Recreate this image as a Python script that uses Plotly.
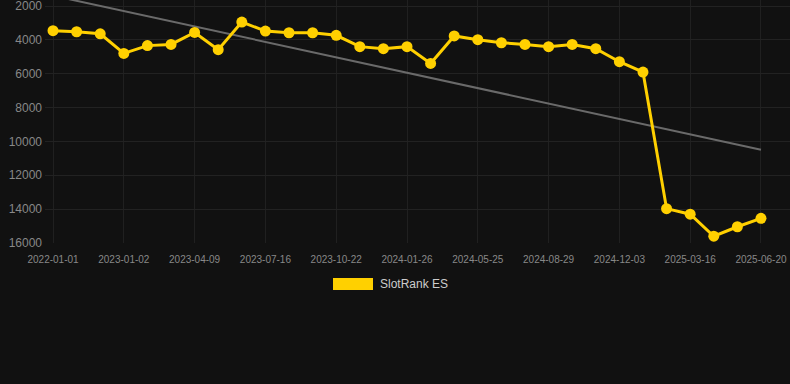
import plotly.graph_objects as go

dates = [
    "2022-01-01", "2022-11-27", "2022-12-01", "2023-01-02", "2023-02-03", "2023-03-08",
    "2023-04-09", "2023-05-12", "2023-06-13", "2023-07-16", "2023-08-18", "2023-09-20",
    "2023-10-22", "2023-11-24", "2023-12-26", "2024-01-26", "2024-03-05", "2024-04-15",
    "2024-05-25", "2024-06-26", "2024-07-28", "2024-08-29", "2024-09-30", "2024-11-01",
    "2024-12-03", "2025-01-05", "2025-02-10", "2025-03-16", "2025-04-18", "2025-05-19",
    "2025-06-20",
]
rank = [
    3460, 3520, 3640, 4800, 4340, 4270, 3560, 4580, 2950, 3480, 3580, 3580,
    3730, 4400, 4520, 4400, 5390, 3770, 3990, 4170, 4270, 4400, 4270, 4520,
    5290, 5900, 13970, 14300, 15600, 15040, 14540,
]
tick_labels = dates[::3]
y_ticks = [2000, 4000, 6000, 8000, 10000, 12000, 14000, 16000]
trend_values = [1390, 10490]
series_name = "SlotRank ES"

W, H = 790, 384
plot_l, plot_r, plot_t, plot_b = 45, 790, 0, 243

fig = go.Figure()
fig.add_trace(go.Scatter(
    x=[dates[0], dates[-1]], y=trend_values, mode="lines",
    line=dict(color="#6a6a6a", width=2), hoverinfo="skip", showlegend=False,
))
fig.add_trace(go.Scatter(
    x=dates, y=rank, mode="lines+markers", name=series_name,
    line=dict(color="#FFD000", width=3),
    marker=dict(color="#FFD000", size=11),
    showlegend=False,
))

fig.update_layout(
    width=W, height=H,
    paper_bgcolor="#111111", plot_bgcolor="#111111",
    margin=dict(l=plot_l, r=W - plot_r, t=plot_t, b=H - plot_b),
    font=dict(family="Liberation Sans, Arial, sans-serif", color="#888888"),
    showlegend=False,
)
fig.update_xaxes(
    type="category", categoryorder="array", categoryarray=dates,
    range=[-0.34, 31.23],
    tickmode="array", tickvals=tick_labels, ticktext=tick_labels,
    tickfont=dict(size=10, color="#888888"),
    showgrid=True, gridcolor="#202020", gridwidth=1,
    zeroline=False, showline=False, ticks="", ticklen=0,
    ticklabelstandoff=9,
)
fig.update_yaxes(
    range=[16000, 1645], tickmode="array", tickvals=y_ticks,
    ticktext=[str(v) for v in y_ticks],
    tickfont=dict(size=12, color="#888888"),
    showgrid=True, gridcolor="#222222", gridwidth=1,
    zeroline=False, showline=False, ticks="", ticklabelstandoff=2,
    ticklabeloverflow="allow",
)

# legend drawn manually to match the wide colour swatch
fig.add_shape(type="rect", xref="paper", yref="paper",
              x0=(333 - plot_l) / (plot_r - plot_l), x1=(373 - plot_l) / (plot_r - plot_l),
              y0=(plot_b - 290) / (plot_b - plot_t), y1=(plot_b - 278) / (plot_b - plot_t),
              fillcolor="#FFD000", line=dict(width=0))
fig.add_annotation(text=series_name, xref="paper", yref="paper",
                   x=(378 - plot_l) / (plot_r - plot_l), y=(plot_b - 284) / (plot_b - plot_t),
                   xanchor="left", yanchor="middle", showarrow=False,
                   font=dict(size=12, color="#cccccc"))

fig.write_html("out.html", config={"displayModeBar": False})

with open("out.html", encoding="utf-8") as f:
    html = f.read()
html = html.replace("<head>", "<head><style>html,body{margin:0;padding:0;background:#111111;overflow:hidden}</style>", 1)
with open("out.html", "w", encoding="utf-8") as f:
    f.write(html)
